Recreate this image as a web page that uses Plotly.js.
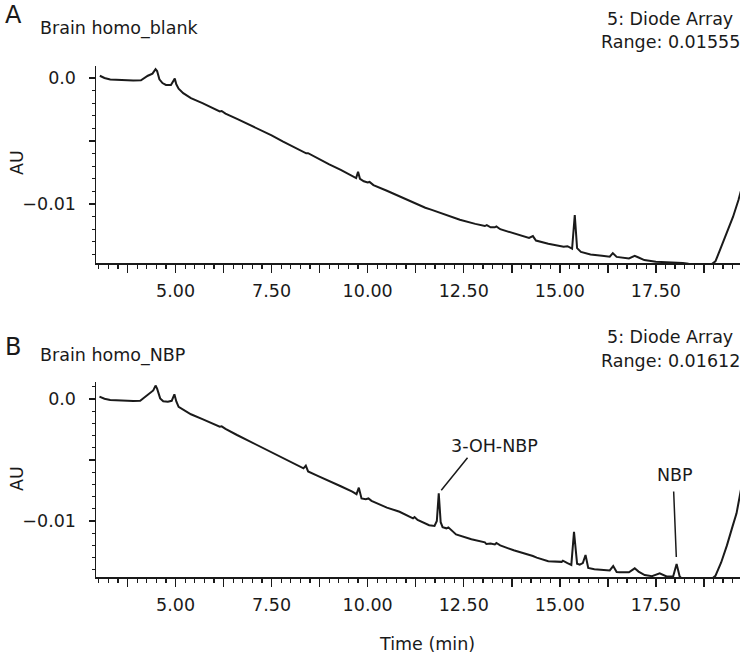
<!DOCTYPE html>
<html>
<head>
<meta charset="utf-8">
<script src="https://cdn.plot.ly/plotly-3.0.1.min.js"></script>
<style>html,body{margin:0;padding:0;background:#fff;}#chart{width:746px;height:659px;}</style>
</head>
<body>
<div id="chart"></div>
<script>
// ---- Data ----
const timeA = [3.03,3.15,3.30,3.60,3.90,4.10,4.20,4.28,4.40,4.48,4.52,4.58,4.66,4.75,4.88,4.95,4.98,5.02,5.08,5.20,5.40,5.70,6.00,6.15,6.20,6.30,6.60,6.84,6.90,7.20,7.50,7.80,8.10,8.40,8.45,8.70,9.00,9.30,9.60,9.70,9.75,9.80,9.90,10.00,10.05,10.15,10.50,11.00,11.50,11.65,12.00,12.40,12.80,13.05,13.10,13.20,13.31,13.35,13.45,13.80,14.20,14.30,14.38,14.70,15.00,15.10,15.20,15.32,15.39,15.45,15.55,15.80,16.10,16.30,16.38,16.48,16.80,16.95,17.05,17.20,17.50,17.80,18.00,18.20,18.35,18.55,18.80,18.95,19.05,19.17,19.34,19.51,19.65,19.79];
const auA = [0.00018,0.00000,-0.00012,-0.00018,-0.00020,-0.00018,0.00005,0.00018,0.00035,0.00070,0.00055,-0.00010,-0.00040,-0.00055,-0.00055,-0.00020,-0.00005,-0.00050,-0.00085,-0.00120,-0.00160,-0.00200,-0.00245,-0.00265,-0.00262,-0.00283,-0.00325,-0.00360,-0.00365,-0.00410,-0.00455,-0.00505,-0.00550,-0.00598,-0.00597,-0.00640,-0.00685,-0.00730,-0.00775,-0.00795,-0.00745,-0.00800,-0.00820,-0.00830,-0.00825,-0.00850,-0.00895,-0.00965,-0.01030,-0.01045,-0.01080,-0.01125,-0.01158,-0.01175,-0.01168,-0.01185,-0.01185,-0.01178,-0.01200,-0.01235,-0.01270,-0.01255,-0.01290,-0.01315,-0.01330,-0.01340,-0.01335,-0.01355,-0.01087,-0.01350,-0.01380,-0.01400,-0.01410,-0.01418,-0.01390,-0.01420,-0.01432,-0.01412,-0.01425,-0.01445,-0.01458,-0.01462,-0.01463,-0.01468,-0.01475,-0.01482,-0.01485,-0.01478,-0.01455,-0.01365,-0.01233,-0.01101,-0.00968,-0.00810];

const timeB = [3.02,3.15,3.30,3.60,3.90,4.08,4.20,4.30,4.42,4.48,4.52,4.60,4.68,4.80,4.90,4.97,5.02,5.08,5.20,5.40,5.70,6.00,6.15,6.20,6.30,6.60,6.84,6.90,7.20,7.50,7.80,8.10,8.33,8.39,8.45,8.70,9.00,9.30,9.60,9.71,9.77,9.84,9.95,10.02,10.10,10.50,10.83,11.00,11.18,11.22,11.30,11.60,11.74,11.80,11.85,11.90,11.95,12.05,12.10,12.30,12.70,13.05,13.09,13.20,13.31,13.35,13.45,13.80,14.20,14.30,14.40,14.70,15.05,15.08,15.20,15.30,15.37,15.45,15.52,15.60,15.67,15.74,15.90,16.20,16.30,16.39,16.48,16.56,16.80,16.95,17.05,17.21,17.40,17.60,17.78,17.95,18.04,18.12,18.17,18.39,18.60,18.80,18.95,19.05,19.20,19.35,19.50,19.60,19.77];
const auB = [0.00020,0.00002,-0.00008,-0.00014,-0.00016,-0.00015,0.00015,0.00040,0.00070,0.00110,0.00085,0.00005,-0.00018,-0.00022,-0.00015,0.00038,-0.00020,-0.00065,-0.00090,-0.00125,-0.00165,-0.00210,-0.00227,-0.00224,-0.00245,-0.00295,-0.00333,-0.00338,-0.00385,-0.00435,-0.00485,-0.00530,-0.00568,-0.00546,-0.00594,-0.00630,-0.00670,-0.00715,-0.00760,-0.00780,-0.00727,-0.00815,-0.00822,-0.00815,-0.00835,-0.00890,-0.00924,-0.00950,-0.00978,-0.00968,-0.00992,-0.01035,-0.01041,-0.01000,-0.00773,-0.01010,-0.01050,-0.01060,-0.01052,-0.01110,-0.01150,-0.01175,-0.01189,-0.01185,-0.01192,-0.01180,-0.01200,-0.01240,-0.01275,-0.01287,-0.01300,-0.01330,-0.01335,-0.01325,-0.01345,-0.01360,-0.01088,-0.01350,-0.01358,-0.01345,-0.01279,-0.01385,-0.01395,-0.01402,-0.01405,-0.01369,-0.01418,-0.01420,-0.01420,-0.01388,-0.01415,-0.01443,-0.01452,-0.01429,-0.01455,-0.01455,-0.01352,-0.01455,-0.01470,-0.01484,-0.01484,-0.01485,-0.01475,-0.01450,-0.01340,-0.01200,-0.01040,-0.00937,-0.00650];

const xTickVals = [3.75,5.00,6.25,7.50,8.75,10.00,11.25,12.50,13.75,15.00,16.25,17.50,18.75];
const xTickText = ['','5.00','','7.50','','10.00','','12.50','','15.00','','17.50',''];
const yTickVals = [0, -0.005, -0.01];
const yTickText = ['0.0', '', '\u22120.01'];

const peakLabels = ['3-OH-NBP', 'NBP'];
const peakTimes = [11.85, 18.04];
const peakValues = [-0.00773, -0.01352];

// ---- Layout helpers ----
const W = 746, H = 659;
const px = x => x / W;
const py = y => 1 - y / H;
const ink = '#1a1a1a';
const FONT = 'DejaVu Sans, sans-serif';

function xAxis(anchor, domainX) {
  return {
    anchor: anchor, domain: domainX, range: [2.93, 19.69],
    showline: true, linecolor: ink, linewidth: 1.5,
    ticks: 'outside', ticklen: 8, tickwidth: 1.5, tickcolor: ink,
    tickmode: 'array', tickvals: xTickVals, ticktext: xTickText,
    ticklabelstandoff: 3,
    minor: {tickmode: 'linear', tick0: 0, dtick: 0.25, ticks: 'outside', ticklen: 4, tickwidth: 1.2, tickcolor: ink, showgrid: false},
    showgrid: false, zeroline: false,
    tickfont: {family: FONT, size: 17.5, color: ink}
  };
}
function yAxis(anchor, domainY, range) {
  return {
    anchor: anchor, domain: domainY, range: range,
    showline: true, linecolor: ink, linewidth: 1.5,
    ticks: 'outside', ticklen: 6, tickwidth: 1.5, tickcolor: ink,
    tickmode: 'array', tickvals: yTickVals, ticktext: yTickText,
    ticklabelstandoff: 9,
    minor: {tickmode: 'linear', tick0: 0, dtick: 0.001, ticks: 'outside', ticklen: 3, tickwidth: 1.2, tickcolor: ink, showgrid: false},
    showgrid: false, zeroline: false,
    tickfont: {family: FONT, size: 17.5, color: ink}
  };
}

const domX = [px(96), px(740)];
const traces = [
  {x: timeA, y: auA, xaxis: 'x', yaxis: 'y', type: 'scatter', mode: 'lines',
   line: {color: ink, width: 2}, name: 'Brain homo_blank', showlegend: false},
  {x: timeB, y: auB, xaxis: 'x2', yaxis: 'y2', type: 'scatter', mode: 'lines',
   line: {color: ink, width: 2}, name: 'Brain homo_NBP', showlegend: false}
];

const txt = (text, x, y, size, xanchor, angle) => ({
  text: text, xref: 'paper', yref: 'paper', x: px(x), y: py(y),
  xanchor: xanchor || 'left', yanchor: 'middle', showarrow: false,
  textangle: angle || 0,
  font: {family: FONT, size: size, color: ink}
});

const annotations = [
  txt('A', 3, 15, 24),
  txt('Brain homo_blank', 38, 29, 17.5),
  txt('5: Diode Array', 670, 19, 17.5, 'center'),
  txt('Range: 0.01555', 670, 42, 17.5, 'center'),
  txt('AU', 17, 163, 17.5, 'center', -90),
  txt('B', 3, 347, 24),
  txt('Brain homo_NBP', 38, 356, 17.5),
  txt('5: Diode Array', 670, 337, 17.5, 'center'),
  txt('Range: 0.01612', 670, 361, 17.5, 'center'),
  txt('AU', 17, 479, 17.5, 'center', -90),
  txt('Time (min)', 427, 644, 17.5, 'center'),
  txt(peakLabels[0], 494, 446, 17.5, 'center'),
  txt(peakLabels[1], 675, 475, 17.5, 'center'),
  // leader lines to the labelled peaks
  {text: '', xref: 'x2', yref: 'y2', x: peakTimes[0], y: peakValues[0], axref: 'pixel', ayref: 'pixel',
   ax: 30, ay: -37, showarrow: true, arrowhead: 0, arrowwidth: 1.5, arrowcolor: ink, standoff: 4},
  {text: '', xref: 'x2', yref: 'y2', x: peakTimes[1], y: peakValues[1], axref: 'pixel', ayref: 'pixel',
   ax: -3, ay: -74, showarrow: true, arrowhead: 0, arrowwidth: 1.5, arrowcolor: ink, standoff: 7}
];

const layout = {
  width: W, height: H,
  margin: {l: 0, r: 0, t: 0, b: 0},
  paper_bgcolor: '#fff', plot_bgcolor: '#fff',
  font: {family: FONT, color: ink},
  showlegend: false,
  xaxis: xAxis('y', domX),
  yaxis: yAxis('x', [py(263), py(66)], [-0.014683, 0.000952]),
  xaxis2: xAxis('y2', domX),
  yaxis2: yAxis('x2', [py(577), py(382)], [-0.01459, 0.001393]),
  annotations: annotations
};

Plotly.newPlot('chart', traces, layout, {staticPlot: true, displayModeBar: false});
</script>
</body>
</html>
